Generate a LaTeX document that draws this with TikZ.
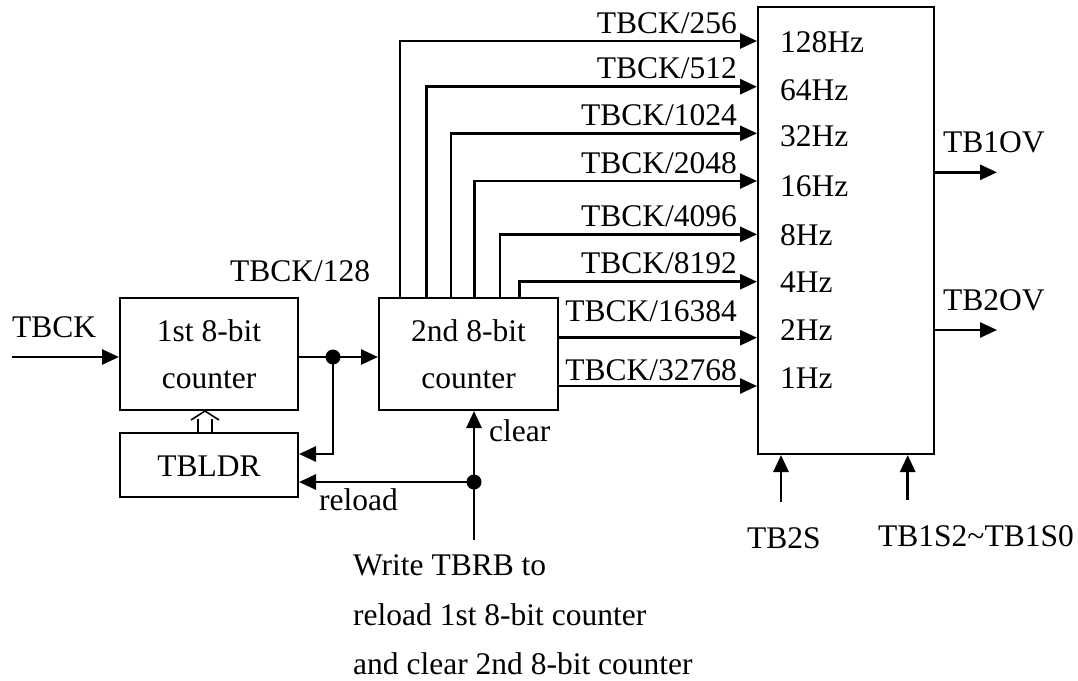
\documentclass[tikz,border=0pt]{standalone}
\usepackage{fontspec}
\setmainfont{Liberation Serif}
\usetikzlibrary{arrows.meta}
\begin{document}
\begin{tikzpicture}[x=1pt,y=-1pt,
  box/.style={draw,line width=2pt,inner sep=0pt},
  wire/.style={line width=2.8pt},
  arr/.style={wire,-{Triangle[length=17pt,width=15pt]}},
  txt/.style={font=\fontsize{31.5}{37}\selectfont,inner sep=0pt},
  dot/.style={fill,circle,inner sep=0pt,minimum size=15pt}]
\useasboundingbox (0,0) rectangle (1078,680);
% boxes
\node[box,minimum width=178pt,minimum height=112pt] (c1) at (209,354) {};
\node[box,minimum width=178pt,minimum height=64pt] (ldr) at (209,465) {};
\node[box,minimum width=179pt,minimum height=112pt] (c2) at (468.5,354) {};
\node[box,minimum width=176pt,minimum height=447pt] (big) at (846,230.5) {};
% box texts
\node[txt,anchor=base] (c1a) at (209,341.7) {1st 8-bit};
\node[txt,anchor=base] (c1b) at (209,388) {counter};
\node[txt,anchor=base] (ldrt) at (209,476) {TBLDR};
\node[txt,anchor=base] (c2a) at (468.5,341.7) {2nd 8-bit};
\node[txt,anchor=base] (c2b) at (468.5,388) {counter};
% hz labels
\foreach \b/\t in {52.3/128Hz,100/64Hz,146.7/32Hz,196.7/16Hz,245/8Hz,292.7/4Hz,340.7/2Hz,388.3/1Hz}
  \node[txt,anchor=base west] (hz\t) at (780,\b) {\t};
% input
\coordinate (in) at (12,357);
\node[txt,anchor=base west] (tbck) at (12,337.3) {TBCK};
\draw[arr] (in) -- (c1.west |- in);
% c1 -> c2 with junction
\node[dot] (d1) at (333,357) {};
\draw[wire] (c1.east |- d1) -- (d1.center);
\draw[arr] (d1.center) -- (c2.west |- d1);
\node[txt,anchor=base west] (l128) at (230,281.7) {TBCK/128};
\coordinate (b1) at (333,454);
\draw[arr] (d1.center) -- (b1) -- (ldr.east |- b1);
% hollow double arrow TBLDR -> c1
\coordinate (h1) at (198,433);
\coordinate (h2) at (212,433);
\draw[line width=1.6pt] (h1) -- (198,419) (h2) -- (212,419);
\draw[line width=1.6pt] (191,420) -- (205,411) -- (219,420);
% reload / clear
\node[dot] (d2) at (474,482) {};
\coordinate (wb) at (474,540);
\draw[arr] (d2.center) -- (ldr.east |- d2);
\draw[arr] (wb) -- (c2.south -| wb);
\node[txt,anchor=base west] (rel) at (319,510) {reload};
\node[txt,anchor=base west] (clr) at (489,441.7) {clear};
% outputs of c2 upward
\foreach \x/\y/\t in {400/41/256,426.7/86.7/512,451/133.3/1024,474.3/181/2048,500/234.3/4096,519.3/281.7/8192}{
  \coordinate (o\t) at (\x,\y);
  \draw[arr] (c2.north -| o\t) |- (big.west |- o\t);
  \node[txt,anchor=base east] (lab\t) at (737,{\y-8}) {TBCK/\t};
}
% outputs of c2 rightward
\coordinate (o16384) at (0,337.7);
\draw[arr] (c2.east |- o16384) -- (big.west |- o16384);
\node[txt,anchor=base east] (lab16384) at (737,321.7) {TBCK/16384};
\coordinate (o32768) at (0,386);
\draw[arr] (c2.east |- o32768) -- (big.west |- o32768);
\node[txt,anchor=base east] (lab32768) at (737,380.7) {TBCK/32768};
% outputs of big box
\coordinate (t1) at (997,172.3);
\draw[arr] (big.east |- t1) -- (t1);
\node[txt,anchor=base west] (tb1ov) at (943,152.7) {TB1OV};
\coordinate (t2) at (997,330);
\draw[arr] (big.east |- t2) -- (t2);
\node[txt,anchor=base west] (tb2ov) at (943,310) {TB2OV};
% bottom inputs
\coordinate (s2) at (781,501.7);
\draw[arr] (s2) -- (big.south -| s2);
\node[txt,anchor=base west] (tb2s) at (747,548.3) {TB2S};
\coordinate (s1) at (907.7,500);
\draw[arr] (s1) -- (big.south -| s1);
\node[txt,anchor=base west] (tb1s) at (878,546) {TB1S2\textasciitilde TB1S0};
% bottom note
\node[txt,anchor=base west] (n1) at (353,575.7) {Write TBRB to};
\node[txt,anchor=base west] (n2) at (353,625) {reload 1st 8-bit counter};
\node[txt,anchor=base west] (n3) at (353,674) {and clear 2nd 8-bit counter};
\end{tikzpicture}
\end{document}
